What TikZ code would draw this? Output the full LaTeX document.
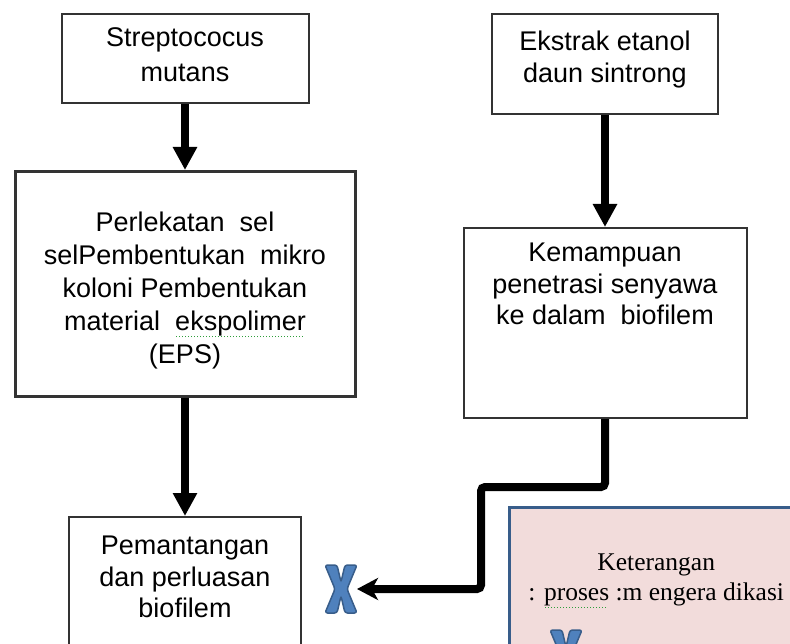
\documentclass[tikz,border=0pt]{standalone}
\usepackage{fontspec}
\setmainfont{Liberation Sans}
\newfontfamily\ketfont{Liberation Serif}
\usetikzlibrary{arrows.meta}

\definecolor{ketpink}{HTML}{F2DCDB}
\definecolor{ketblue}{HTML}{385D8A}
\definecolor{xblue}{HTML}{4F81BD}
\definecolor{spellgreen}{HTML}{2E9E3A}

% dotted green mark under a word
\newsavebox\spellbox
\newcommand\spellmark[1]{\sbox\spellbox{#1}\rlap{\raisebox{-7pt}{\textcolor{spellgreen}{\leaders\hbox to 3pt{\hss\rule{1.3pt}{1.3pt}\hss}\hskip\wd\spellbox}}}\usebox\spellbox}
% text block of a box: height, width, top gap, lines
\newcommand\boxtext[4]{\parbox[c][#1][t]{#2}{\centering\vspace*{#3}#4}}

\tikzset{
  xcross/.pic={
    \draw[fill=xblue, draw=ketblue, line width=1.5pt, rounded corners=2.5pt]
      (-16,-24) -- (-4,-24) -- (0,-7) -- (4,-24) -- (16,-24) -- (6,0)
      -- (16,24) -- (4,24) -- (0,7) -- (-4,24) -- (-16,24) -- (-6,0) -- cycle;
    \coordinate (-east) at (16,0);
  }
}

\begin{document}
\begin{tikzpicture}[x=1pt, y=-1pt,
  font=\fontsize{27}{31.5}\selectfont,
  box/.style={draw=black!80, line width=2pt, inner sep=0pt, anchor=north},
  arr/.style={-{Triangle[length=23pt,width=23pt]}, line width=7.5pt},
  conn/.style={-{Stealth[length=21pt,width=22pt,inset=6pt]}, line width=8pt, rounded corners=4pt},
  ket/.style={draw=ketblue, line width=2.5pt, fill=ketpink, inner sep=0pt, anchor=north west,
    font=\ketfont\fontsize{25.5}{30}\selectfont}]
\useasboundingbox (0,0) rectangle (790,644);
\clip (0,0) rectangle (790,644);
% left column
\node[box, font=\fontsize{27}{35}\selectfont] (strep) at (185,13)
  {\boxtext{89pt}{247pt}{14pt}{Streptococus\\mutans}};
\node[box, line width=3pt, font=\fontsize{27}{33}\selectfont] (perlekatan) at (185,170)
  {\boxtext{225pt}{340pt}{40pt}{Perlekatan\ \ sel\\selPembentukan\ \ mikro\\koloni Pembentukan\\material\ \ \spellmark{ekspolimer}\\(EPS)}};
\node[box] (pemantangan) at (185,516)
  {\boxtext{150pt}{232pt}{19pt}{Pemantangan\\dan perluasan\\biofilem}};
\draw[arr] (strep) -- (perlekatan);
\draw[arr] (perlekatan) -- (pemantangan);
% right column
\node[box, font=\fontsize{27}{32}\selectfont] (ekstrak) at (605,13)
  {\boxtext{100pt}{226pt}{17pt}{Ekstrak etanol\\daun sintrong}};
\node[box] (kemampuan) at (605,227)
  {\boxtext{190pt}{283pt}{15pt}{Kemampuan\\penetrasi senyawa\\ke dalam\ \ biofilem}};
\draw[arr] (ekstrak) -- (kemampuan);
% eradication mark
\pic (xa) at (341,589) {xcross};
\coordinate (bend) at (481,487);
\draw[conn] (kemampuan.south) |- (bend) |- (xa-east);
% legend
\node[ket] (keterangan) at (508,506)
  {\boxtext{194pt}{294pt}{47pt}{Keterangan\\: \spellmark{proses} :m engera dikasi}};
\pic (xb) at (566,654) {xcross};
\end{tikzpicture}
\end{document}
